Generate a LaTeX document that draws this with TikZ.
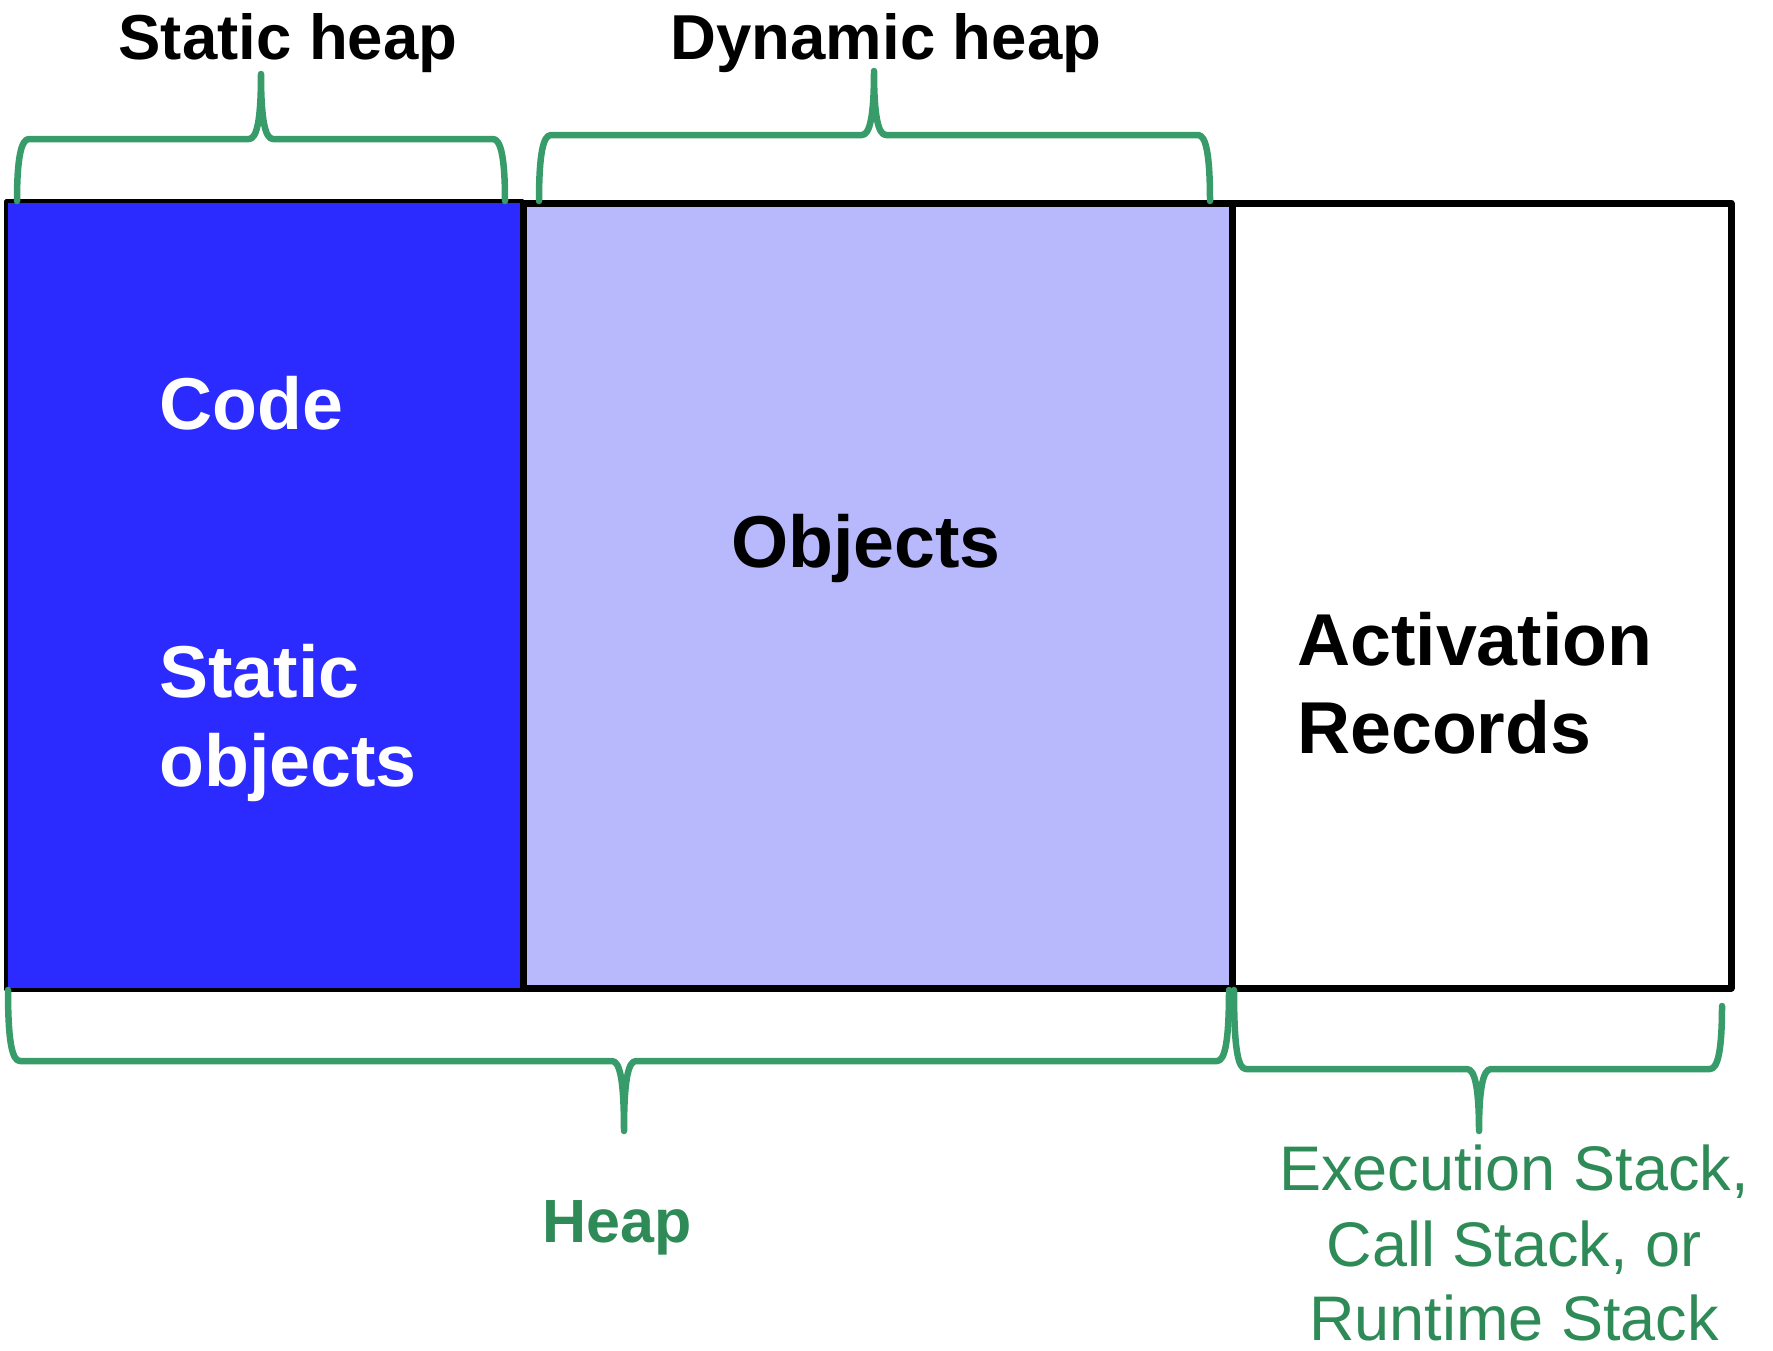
\documentclass[tikz,border=0pt]{standalone}
\usepackage{fontspec}
\setmainfont{Liberation Sans}
\definecolor{codeblue}{HTML}{2B2BFF}
\definecolor{heaplav}{HTML}{B8B8FC}
\definecolor{bracegreen}{HTML}{389C6A}
\definecolor{labelgreen}{HTML}{2E8B57}
\tikzset{
  region/.style={draw=black, inner sep=0pt, outer sep=0pt, anchor=north west, line join=round},
  bracestroke/.style={draw=bracegreen, line width=6.5pt, line cap=round, line join=round},
  toplabel/.style={inner sep=0pt, anchor=base, font=\fontsize{63.5}{70}\bfseries},
  boxlabel/.style={inner sep=0pt, anchor=base west, font=\fontsize{73.5}{80}\bfseries},
  heaplabel/.style={inner sep=0pt, anchor=base, text=labelgreen, font=\fontsize{61}{70}\bfseries},
  stacklabel/.style={inner sep=0pt, anchor=base, text=labelgreen, font=\fontsize{63}{70}\selectfont},
}
% curly brace: left x, left end y, right x, right end y, bar y, tip x, tip y, bend offset
\newcommand\curlybrace[8]{%
  \draw[bracestroke] (#1,#2) .. controls (#1,{#5+(#8)}) and ({#1+4},#5) .. ({#1+12},#5)
    -- ({#6-12},#5) .. controls ({#6-4},#5) and (#6,{#5-(#8)}) .. (#6,#7)
    .. controls (#6,{#5-(#8)}) and ({#6+4},#5) .. ({#6+12},#5)
    -- ({#3-12},#5) .. controls ({#3-4},#5) and (#3,{#5+(#8)}) .. (#3,#4);}
\begin{document}
\begin{tikzpicture}[x=1pt, y=-1pt]
  \useasboundingbox (0,0) rectangle (1773,1350);

  % memory regions
  \node[region, fill=codeblue, line width=3.5pt, minimum width=517pt, minimum height=789pt]
    (static) at (6,201) {};
  \node[region, fill=heaplav, line width=7pt, minimum width=709pt, minimum height=785pt]
    (dynamic) at (523,203) {};
  \node[region, fill=white, line width=7pt, minimum width=499pt, minimum height=785pt]
    (stack) at (1232,203) {};

  % region contents
  \node[boxlabel, text=white] (code) at (159,429) {Code};
  \node[boxlabel, text=white] (statica) at (159,697) {Static};
  \node[boxlabel, text=white] (staticb) at (159,786) {objects};
  \node[inner sep=0pt, anchor=base, font=\fontsize{73.5}{80}\bfseries] (objects) at (866,567) {Objects};
  \node[boxlabel] (acta) at (1297,665) {Activation};
  \node[boxlabel] (actb) at (1297,753) {Records};

  % braces above
  \curlybrace{17}{201}{505}{201}{139}{261}{74}{20}
  \curlybrace{539}{201}{1210}{201}{135}{874}{71}{20}
  \node[toplabel] (staticheap) at (288,59) {Static heap};
  \node[toplabel] (dynamicheap) at (886,59) {Dynamic heap};

  % braces below
  \curlybrace{8}{990}{1229}{990}{1061}{624}{1131}{-20}
  \curlybrace{1234}{990}{1722}{1006}{1069}{1479}{1131}{-20}
  \node[heaplabel] (heap) at (617,1242) {Heap};
  \node[stacklabel] (stacka) at (1514,1190) {Execution Stack,};
  \node[stacklabel] (stackb) at (1514,1266) {Call Stack, or};
  \node[stacklabel, text depth=0pt] (stackc) at (1514,1340) {Runtime Stack};
\end{tikzpicture}
\end{document}
